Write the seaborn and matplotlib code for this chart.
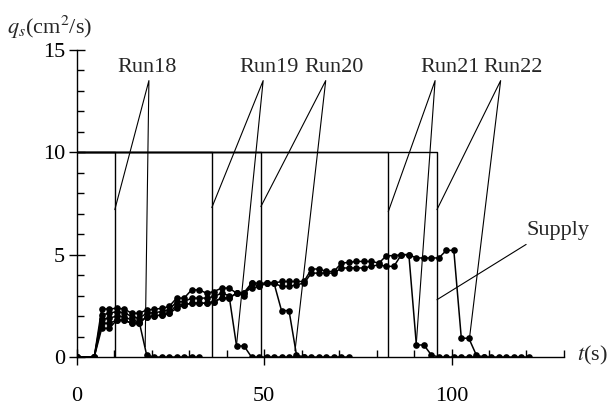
import matplotlib
matplotlib.use("Agg")
import matplotlib.pyplot as plt
import seaborn as sns
import pandas as pd

# ---------------- data ----------------
T = [0, 4.6, 6.6, 8.6, 10.6, 12.6, 14.6, 16.6, 18.6, 20.6, 22.6, 24.6, 26.6, 28.6,
     30.6, 32.6, 34.6, 36.6, 38.6, 40.6, 42.6, 44.6, 46.6, 48.6, 50.6, 52.6, 54.6,
     56.6, 58.6, 60.6, 62.6, 64.6, 66.6, 68.6, 70.6, 72.6, 74.6, 76.6, 78.6, 80.6,
     82.6, 84.6, 86.6, 88.6, 90.6, 92.6, 94.6, 96.6, 98.6, 100.6, 102.6, 104.6,
     106.6, 108.6, 110.6, 112.6, 114.6, 116.6, 118.6, 120.6]

run18 = [0, 0, 1.85, 1.90, 2.00, 1.98, 1.80, 1.73, 0.10, 0, 0, 0, 0, 0, 0, 0]

run19 = [0, 0, 2.06, 2.14, 2.22, 2.17, 1.98, 1.90, 2.14, 2.17, 2.22, 2.30, 2.71, 2.71,
         2.88, 2.88, 2.88, 2.96, 3.12, 3.00, 0.54, 0.54, 0, 0, 0, 0, 0, 0, 0, 0]

run20 = [0, 0, 2.35, 2.35, 2.38, 2.35, 2.14, 2.14, 2.30, 2.33, 2.38, 2.47, 2.88, 2.88,
         3.28, 3.28, 3.12, 3.20, 3.37, 3.37, 3.12, 3.15, 3.61, 3.61, 3.61, 3.61,
         2.27, 2.27, 0.10, 0, 0, 0, 0, 0, 0, 0]

run21 = [0, 0, 1.65, 1.65, 1.80, 1.80, 1.65, 1.65, 1.98, 2.00, 2.06, 2.14, 2.55, 2.55,
         2.63, 2.63, 2.63, 2.71, 2.88, 2.88, 3.12, 3.15, 3.37, 3.45, 3.61, 3.61,
         3.69, 3.69, 3.69, 3.69, 4.30, 4.30, 4.18, 4.18, 4.59, 4.62, 4.67, 4.67,
         4.67, 4.59, 4.95, 4.95, 5.00, 5.00, 0.59, 0.59, 0.10, 0, 0, 0, 0, 0, 0, 0]

run22 = [0, 0, 1.40, 1.40, 1.80, 1.80, 1.65, 1.65, 1.98, 2.00, 2.06, 2.14, 2.38, 2.55,
         2.63, 2.63, 2.63, 2.71, 2.88, 2.88, 3.12, 3.00, 3.61, 3.45, 3.61, 3.61,
         3.45, 3.45, 3.53, 3.61, 4.10, 4.10, 4.10, 4.10, 4.35, 4.35, 4.35, 4.35,
         4.43, 4.51, 4.43, 4.43, 5.00, 5.00, 4.84, 4.84, 4.84, 4.84, 5.21, 5.21,
         0.92, 0.92, 0.10, 0, 0, 0, 0, 0, 0, 0]

run_names = ["Run18", "Run19", "Run20", "Run21", "Run22"]
run_values = [run18, run19, run20, run21, run22]

supply_rate = 10.0
supply_end = [10.1, 36.0, 49.1, 83.1, 96.1]

x_ticks = [0, 50, 100]
y_ticks = [0, 5, 10, 15]

# annotation geometry (data coords)
label_t = [18.7, 51.2, 68.5, 99.5, 116.5]
label_v = 14.15
apex_t = [19.2, 49.7, 66.4, 95.6, 113.1]
apex_v = 13.5
left_leg_v = [7.2, 7.3, 7.35, 7.1, 7.2]
right_leg = [(18.2, 0.5), (42.6, 0.6), (58.2, 0.3), (90.6, 0.7), (104.8, 0.95)]

# ---------------- style ----------------
sns.set_style("ticks")
plt.rcParams["font.family"] = ["Liberation Serif", "DejaVu Serif"]
plt.rcParams["mathtext.fontset"] = "stix"

fig = plt.figure(figsize=(6.11, 4.09), dpi=100)
ax = fig.add_axes([0.126, 0.127, 0.797, 0.751])

df = pd.concat(
    [pd.DataFrame({"t": T[:len(v)], "qs": v, "run": n}) for n, v in zip(run_names, run_values)],
    ignore_index=True,
)
for n in run_names:
    sub = df[df["run"] == n]
    sns.lineplot(data=sub, x="t", y="qs", ax=ax, color="black", lw=1.1,
                 marker="o", markersize=4.8, markeredgewidth=0,
                 estimator=None, sort=False, legend=False)

# supply hydrographs
for e in supply_end:
    ax.plot([0, e, e], [supply_rate, supply_rate, 0], color="black", lw=1.0)

# run annotations
for name, lt, at, lv, (rt, rv), e in zip(run_names, label_t, apex_t, left_leg_v, right_leg, supply_end):
    ax.text(lt, label_v, name, ha="center", va="center", fontsize=16)
    ax.plot([e, at, rt], [lv, apex_v, rv], color="black", lw=0.8)

# supply annotation
ax.plot([96.1, 119.9], [2.8, 5.5], color="black", lw=0.8)
ax.text(128.3, 6.2, "Supply", ha="center", va="center", fontsize=16)

# axes
ax.set_xlim(0, 130)
ax.set_ylim(0, 15)
ax.set_xticks(x_ticks)
ax.set_xticks(list(range(10, 131, 10)), minor=True)
ax.set_yticks(y_ticks)
ax.set_yticks(list(range(1, 16)), minor=True)
ax.set_xlabel("")
ax.set_ylabel("")
for s in ["top", "right"]:
    ax.spines[s].set_visible(False)
for s in ["left", "bottom"]:
    ax.spines[s].set_linewidth(1.0)
    ax.spines[s].set_color("black")
ax.tick_params(which="both", bottom=True, left=True, top=False, right=False)
ax.tick_params(which="major", direction="inout", length=11, width=1.0,
               labelsize=16, colors="black")
ax.tick_params(axis="x", which="major", pad=16)
ax.tick_params(axis="y", which="major", pad=3)
ax.tick_params(which="minor", direction="in", length=5, width=1.0, colors="black")

ax.text(137.6, 0.1, r"$t$(s)", ha="center", va="center", fontsize=16, clip_on=False)
fig.text(50 / 611, 1 - 27 / 409, r"$q_s$(cm$^2$/s)", ha="center", va="center", fontsize=16)

fig.savefig("out.png", dpi=100)
